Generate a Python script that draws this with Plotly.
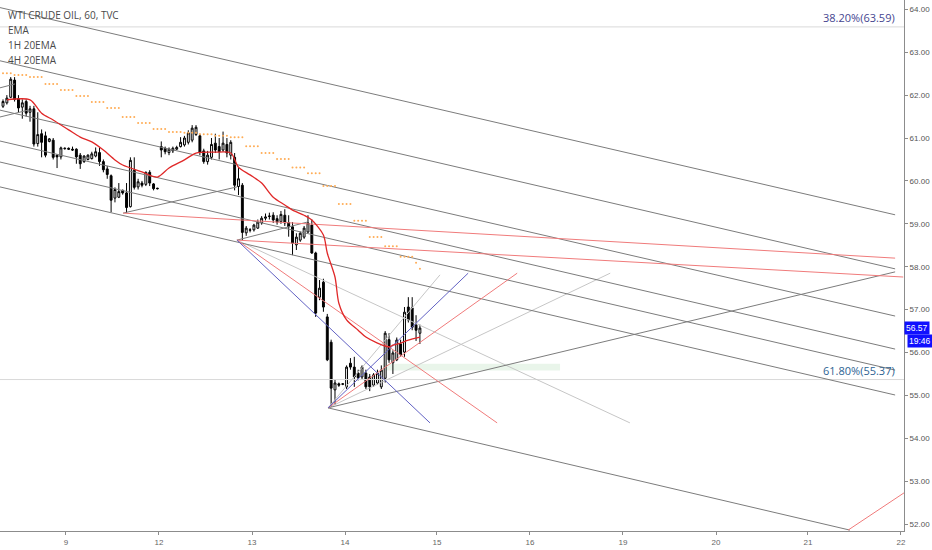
import plotly.graph_objects as go

# WTI crude, 60 min bars (Nov 8 evening -> Nov 14), bar index on x
opens = [
    61.74, 61.82, 61.95, 62.35, 61.92, 61.72, 61.85, 61.60, 61.68, 60.87, 61.10, 61.05, 60.92, 60.95, 60.60, 60.56, 60.75,
    60.76, 60.74, 60.74, 60.60, 60.45, 60.50, 60.52, 60.58, 60.66, 60.45, 60.28, 60.12, 59.60, 59.62, 59.78, 59.72,
    59.40, 60.25, 59.86, 59.95, 59.92, 60.20, 59.93, 59.83,
    60.80, 60.76, 60.66, 60.70, 60.74, 60.80, 60.84, 60.90, 60.95, 61.08, 61.05, 60.70, 60.45, 60.55, 60.88, 60.80,
    60.72, 60.85, 60.60, 60.55, 59.87, 59.90, 58.79, 58.85,
    58.86, 58.90, 59.02, 59.13, 59.17, 59.20, 59.12, 59.05, 59.20, 59.03, 58.93, 58.51, 58.62, 58.69, 58.81, 58.97,
    58.32, 57.29, 57.64, 56.83, 56.24, 55.13, 55.27, 55.26,
    55.20, 55.75, 55.66, 55.52, 55.43, 55.52, 55.43, 55.24, 55.29, 55.20, 55.40, 56.30, 55.76, 55.83, 56.20, 56.01,
    57.06, 57.04, 56.64, 56.45,
]
highs = [
    61.90, 62.00, 62.42, 62.42, 62.00, 61.90, 61.90, 61.75, 61.75, 61.60, 61.20, 61.15, 61.00, 61.00, 60.62, 60.80, 60.78,
    60.78, 60.80, 60.76, 60.65, 60.60, 60.62, 60.68, 60.78, 60.78, 60.50, 60.35, 60.15, 59.85, 59.95, 59.80, 59.95,
    60.55, 60.55, 60.05, 60.00, 60.22, 60.25, 59.95, 59.84,
    60.92, 60.80, 60.78, 60.80, 60.82, 61.02, 61.05, 61.18, 61.30, 61.30, 61.10, 60.75, 60.70, 61.00, 61.10, 61.00,
    61.15, 61.00, 60.95, 60.65, 60.30, 59.95, 58.95, 58.90,
    59.00, 59.10, 59.18, 59.24, 59.26, 59.27, 59.20, 59.30, 59.34, 59.20, 59.04, 58.78, 58.82, 58.95, 59.20, 59.10,
    58.35, 57.69, 57.72, 56.90, 56.30, 55.36, 55.30, 55.28,
    55.70, 55.87, 55.90, 55.60, 55.70, 55.60, 55.50, 55.52, 55.60, 55.70, 56.50, 56.45, 56.05, 56.35, 56.30, 57.06,
    57.29, 57.29, 56.87, 56.65,
]
lows = [
    61.70, 61.78, 61.93, 61.85, 61.60, 61.45, 61.50, 61.38, 60.80, 60.80, 60.55, 60.55, 60.90, 60.50, 60.30, 60.50, 60.73,
    60.72, 60.70, 60.40, 60.28, 60.42, 60.48, 60.50, 60.55, 60.35, 60.20, 60.05, 59.27, 59.50, 59.60, 59.68, 59.25,
    59.38, 59.80, 59.80, 59.85, 59.88, 59.88, 59.78, 59.80,
    60.55, 60.62, 60.60, 60.65, 60.72, 60.78, 60.80, 60.85, 60.90, 61.05, 60.60, 60.40, 60.38, 60.50, 60.65, 60.50,
    60.68, 60.55, 60.50, 59.78, 59.67, 58.62, 58.72, 58.80,
    58.82, 58.88, 58.98, 59.08, 59.10, 59.02, 58.98, 59.00, 58.95, 58.70, 58.27, 58.39, 58.58, 58.65, 58.78, 58.30,
    56.83, 57.22, 56.95, 55.80, 54.73, 54.78, 55.20, 55.24,
    55.15, 55.60, 55.20, 55.35, 55.38, 55.15, 55.10, 55.20, 55.25, 55.15, 55.30, 55.76, 55.50, 55.80, 55.90, 55.90,
    56.70, 56.52, 56.27, 56.20,
]
closes = [
    61.85, 61.93, 62.37, 61.90, 61.70, 61.82, 61.58, 61.68, 60.86, 61.08, 60.90, 60.60, 60.98, 60.55, 60.56, 60.77, 60.76,
    60.74, 60.72, 60.56, 60.40, 60.58, 60.60, 60.63, 60.68, 60.45, 60.26, 60.15, 59.55, 59.80, 59.75, 59.72, 59.38,
    60.48, 59.85, 59.98, 59.90, 60.20, 59.95, 59.82, 59.82,
    60.72, 60.68, 60.74, 60.76, 60.78, 60.90, 61.00, 61.12, 61.23, 61.25, 60.67, 60.45, 60.60, 60.85, 60.72, 60.68,
    60.88, 60.65, 60.90, 59.90, 60.05, 58.80, 58.90, 58.86,
    58.97, 59.04, 59.13, 59.16, 59.18, 59.09, 59.04, 59.22, 59.02, 58.93, 58.55, 58.69, 58.78, 58.90, 59.02, 58.32,
    56.92, 57.50, 57.06, 55.83, 55.17, 55.29, 55.24, 55.27,
    55.66, 55.66, 55.43, 55.41, 55.66, 55.20, 55.20, 55.48, 55.52, 55.59, 56.45, 55.83, 55.99, 56.29, 55.95, 56.94,
    56.76, 56.59, 56.52, 56.57,
]
bars = list(range(len(opens)))

# 1H 20EMA
ema1h_bar = [1, 7, 10, 13, 17, 20, 23, 26, 29, 31, 36, 40, 43, 47, 50, 55, 59, 61, 64, 67, 70, 73, 75, 78, 80,
             83, 84, 86, 87, 89, 92, 94, 97, 100, 101, 103, 105, 108]
ema1h_val = [61.89, 61.89, 61.58, 61.42, 61.19, 61.02, 60.91, 60.72, 60.49, 60.37, 60.21, 60.09, 60.30, 60.49,
             60.65, 60.67, 60.65, 60.32, 60.14, 59.95, 59.62, 59.44, 59.32, 59.20, 59.09, 58.74, 58.32, 57.76,
             57.15, 56.76, 56.52, 56.36, 56.22, 56.13, 56.17, 56.22, 56.29, 56.36]

# 4H 20EMA, one level per 4h block, plus the live block
ema4h_levels = [62.51, 62.47, 62.42, 62.26, 62.12, 61.98, 61.84, 61.70, 61.49, 61.35, 61.21, 61.14, 61.12, 61.09,
                61.05, 61.02, 60.81, 60.65, 60.51, 60.31, 60.18, 59.88, 59.46, 59.07, 58.69, 58.48, 58.23]
ema4h_tail_bar = [107, 108]
ema4h_tail_val = [58.09, 57.95]

day_pos = [16.3, 40.4, 64.5, 88.6, 112.4, 136.5, 160.6, 184.7, 208.5, 232.6]
day_labels = ['9', '12', '13', '14', '15', '16', '19', '20', '21', '22']
price_ticks = [52, 53, 54, 55, 56, 57, 58, 59, 60, 61, 62, 63, 64]

# drawings: (bar0, price0, bar1, price1)
dark_segs = [
    (-0.78, 64.04, 231.1, 59.21),
    (-0.78, 62.80, 231.1, 57.95),
    (-0.78, 61.65, 231.1, 56.85),
    (-0.78, 60.93, 231.1, 56.08),
    (-0.78, 60.44, 231.1, 55.59),
    (-0.78, 59.86, 231.1, 55.01),
    (84.2, 54.71, 219.4, 51.86),
    (84.2, 54.71, 231.1, 57.88),
    (31.1, 59.25, 60.6, 59.86),
    (60.6, 58.62, 78.8, 59.04),
    (-0.78, 62.17, 3.1, 62.26),
    (-0.78, 61.49, 6.5, 61.65),
]
red_segs = [
    (31.1, 59.25, 231.1, 58.20),
    (60.6, 58.62, 233.2, 57.76),
    (60.6, 58.62, 128.0, 54.36),
    (84.2, 54.71, 133.2, 57.85),
    (218.9, 51.86, 237.6, 52.98),
]
blue_segs = [
    (60.6, 58.62, 110.6, 54.36),
    (84.2, 54.71, 120.5, 57.85),
]
light_segs = [
    (60.6, 58.62, 162.4, 54.36),
    (84.2, 54.71, 113.2, 57.81),
    (84.2, 54.71, 157.3, 57.85),
]
fib_levels = [63.59, 55.37]
fib_labels = ['38.20%(63.59)', '61.80%(55.37)']
fib_colors = ['#45458f', '#2d6393']
zone = (98.4, 55.58, 144.3, 55.74)

last_price = 56.57
countdown = '19:46'

X0, X1 = -0.78, 233.4

fig = go.Figure()


def add_segs(segs, color, width=1):
    xs, ys = [], []
    for x0, y0, x1, y1 in segs:
        xs += [x0, x1, None]
        ys += [y0, y1, None]
    fig.add_trace(go.Scatter(x=xs, y=ys, mode='lines', hoverinfo='skip',
                             line=dict(color=color, width=width)))


for lvl in fib_levels:
    fig.add_trace(go.Scatter(x=[X0, X1], y=[lvl, lvl], mode='lines', hoverinfo='skip',
                             line=dict(color='#d9d9d9', width=1)))

fig.add_shape(type='rect', x0=zone[0], y0=zone[1], x1=zone[2], y1=zone[3],
              fillcolor='rgba(76,175,80,0.12)', line_width=0, layer='below')

add_segs(light_segs, '#c6c6c6')
add_segs(dark_segs, '#7c7c7c')
add_segs(red_segs, '#f07b7b')
add_segs(blue_segs, '#6262c4')

# orange 4H EMA dots
dot_x, dot_y = [], []
for k, lvl in enumerate(ema4h_levels):
    for j in range(4):
        b = 4 * k - 1 + j
        if b >= 0:
            dot_x.append(b)
            dot_y.append(lvl)
dot_x += ema4h_tail_bar
dot_y += ema4h_tail_val
fig.add_trace(go.Scatter(x=dot_x, y=dot_y, mode='markers', hoverinfo='skip',
                         marker=dict(color='#ffac55', size=2, line_width=0)))

fig.add_trace(go.Scatter(x=ema1h_bar, y=ema1h_val, mode='lines', hoverinfo='skip',
                         line=dict(color='#e02828', width=1.3, shape='spline', smoothing=0.8)))

fig.add_trace(go.Candlestick(
    x=bars, open=opens, high=highs, low=lows, close=closes,
    increasing=dict(line=dict(color='#000000', width=1), fillcolor='#ffffff'),
    decreasing=dict(line=dict(color='#000000', width=1), fillcolor='#000000'),
    whiskerwidth=0, hoverinfo='skip'))

for lvl, txt, col in zip(fib_levels, fib_labels, fib_colors):
    fig.add_annotation(x=231.6, y=lvl, text=txt, showarrow=False, xanchor='right', yanchor='bottom',
                       yshift=0, font=dict(family='Open Sans', size=11, color=col))

legend_lines = ['WTI CRUDE OIL, 60, TVC', 'EMA', '1H 20EMA', '4H 20EMA']
for i, txt in enumerate(legend_lines):
    fig.add_annotation(xref='paper', yref='paper', x=0.007, y=1 - (15 + 15 * i) / 531,
                       text=txt, showarrow=False, xanchor='left', yanchor='middle',
                       font=dict(family='Open Sans', size=10, color='#4a4a4a'))

fig.add_annotation(xref='paper', x=1, y=last_price, text=f'{last_price:.2f}', showarrow=False,
                   xanchor='left', yanchor='middle', bgcolor='#1010ff', borderpad=1,
                   font=dict(family='Liberation Sans', size=8.5, color='#ffffff'))
fig.add_annotation(xref='paper', x=1, y=last_price, yshift=-13, xshift=3, text=countdown, showarrow=False,
                   xanchor='left', yanchor='middle', bgcolor='#1010ff', borderpad=1,
                   font=dict(family='Liberation Sans', size=8.5, color='#ffffff'))

fig.update_layout(
    width=932, height=550,
    margin=dict(l=0, r=28, t=0, b=19),
    paper_bgcolor='#ffffff', plot_bgcolor='#ffffff',
    showlegend=False,
    xaxis=dict(range=[X0, X1], tickvals=day_pos, ticktext=day_labels, showgrid=False, zeroline=False,
               showline=True, linecolor='#8c8c8c', ticks='outside', ticklen=3, tickcolor='#8c8c8c',
               tickfont=dict(family='Liberation Sans', size=8, color='#666666'),
               rangeslider=dict(visible=False)),
    yaxis=dict(range=[51.84, 64.217], side='right', tickvals=price_ticks, tickformat='.2f',
               showgrid=False, zeroline=False, showline=True, linecolor='#8c8c8c', ticks='outside',
               ticklen=3, tickcolor='#8c8c8c',
               tickfont=dict(family='Liberation Sans', size=8, color='#555555')),
)

fig.write_html("out.html", config={'displayModeBar': False},
               post_script="document.body.style.margin='0';")
